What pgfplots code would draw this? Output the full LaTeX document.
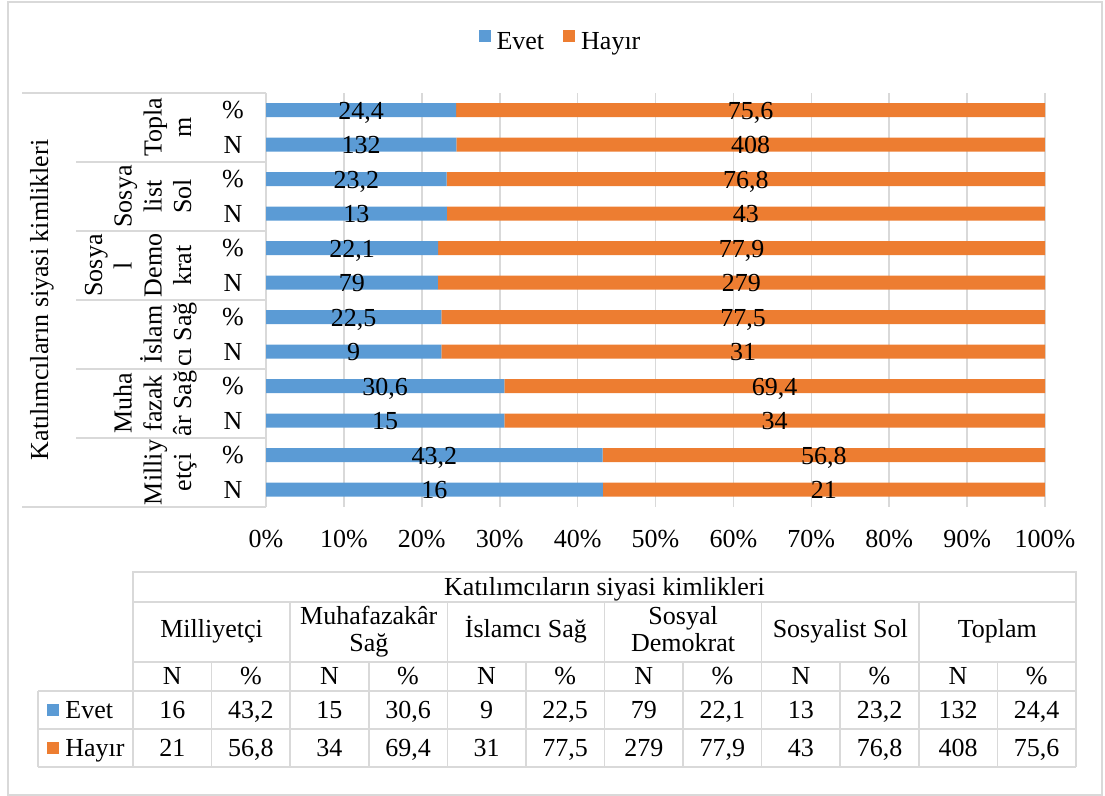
\documentclass[border=0pt]{standalone}
\usepackage{fontspec}
\setmainfont{Liberation Serif}
\usepackage{pgfplots}
\usepackage{pgfplotstable}
\pgfplotsset{compat=1.18}
\definecolor{evet}{HTML}{5B9BD5}
\definecolor{hayir}{HTML}{ED7D31}
\definecolor{gridgray}{HTML}{D9D9D9}
% y: 0 = Milliyetci N (bottom) ... 11 = Toplam % (top)
\pgfplotstableread{
y  e     h     el    hl
0  16    21    16    21
1  43.2  56.8  43,2  56,8
2  15    34    15    34
3  30.6  69.4  30,6  69,4
4  9     31    9     31
5  22.5  77.5  22,5  77,5
6  79    279   79    279
7  22.1  77.9  22,1  77,9
8  13    43    13    43
9  23.2  76.8  23,2  76,8
10 132   408   132   408
11 24.4  75.6  24,4  75,6
}\data
\begin{document}
\begin{tikzpicture}[font=\fontsize{13}{13.5}\selectfont]
\begin{scope}[x=0.5pt,y=-0.5pt]
\useasboundingbox (0,0) rectangle (1105,796);
\draw[gridgray, line width=0.8pt] (8,2) rectangle (1102,795);
% category axis boxes
\draw[gridgray, line width=0.8pt] (22,93) -- (266,93);
\draw[gridgray, line width=0.8pt] (22,507) -- (266,507);
\draw[gridgray, line width=0.8pt] (266,93) -- (266,507);
\foreach \yy in {162,231,300,369,438} \draw[gridgray, line width=0.8pt] (76,\yy) -- (266,\yy);
% level 1 labels
\foreach \i in {0,...,11}{
  \pgfmathsetmacro{\yc}{93+34.5*(\i+0.5)+8.7}
  \pgfmathparse{mod(\i,2)==0 ? 1 : 0}
  \ifnum\pgfmathresult=1 \node[anchor=base, inner sep=0pt] at (233,\yc) {\%};
  \else \node[anchor=base, inner sep=0pt] at (233,\yc) {N}; \fi
}
% level 2 labels (rotated)
\tikzset{rl/.style={rotate=90, anchor=base, inner sep=0pt}}
\node[rl] at (161.5,127.5) {Topla};
\node[rl] at (191,127.5) {m};
\node[rl] at (131.5,196.5) {Sosya};
\node[rl] at (161.5,196.5) {list};
\node[rl] at (191,196.5) {Sol};
\node[rl] at (102,265.5) {Sosya};
\node[rl] at (131.5,265.5) {l};
\node[rl] at (161.5,265.5) {Demo};
\node[rl] at (191,265.5) {krat};
\node[rl] at (161.5,334.5) {İslam};
\node[rl] at (191,334.5) {cı Sağ};
\node[rl] at (131.5,403.5) {Muha};
\node[rl] at (161.5,403.5) {fazak};
\node[rl] at (191,403.5) {âr Sağ};
\node[rl] at (161.5,472.5) {Milliy};
\node[rl] at (191,472.5) {etçi};
\node[rl] at (48,300) {Katılımcıların siyasi kimlikleri};
% data table
\tikzset{tl/.style={gridgray, line width=0.8pt}}
\draw[tl] (133,572) rectangle (1076,602);
\draw[tl] (133,602) rectangle (1076,662);
\foreach \k in {2,4,...,10} \draw[tl] ({133+78.583*\k},602) -- ({133+78.583*\k},662);
\draw[tl] (38,691) -- (1076,691);
\draw[tl] (38,729) -- (1076,729);
\draw[tl] (38,767) -- (1076,767);
\draw[tl] (38,691) -- (38,767);
\foreach \k in {0,...,12} \draw[tl] ({133+78.583*\k},662) -- ({133+78.583*\k},767);
\node[anchor=base, inner sep=0pt] at (604.5,595.5) {Katılımcıların siyasi kimlikleri};
\node[anchor=base, inner sep=0pt] at (211.6,638) {Milliyetçi};
\node[anchor=base, inner sep=0pt] at (368.8,625) {Muhafazakâr};
\node[anchor=base, inner sep=0pt] at (368.8,652) {Sağ};
\node[anchor=base, inner sep=0pt] at (525.9,638) {İslamcı Sağ};
\node[anchor=base, inner sep=0pt] at (683.1,625) {Sosyal};
\node[anchor=base, inner sep=0pt] at (683.1,652) {Demokrat};
\node[anchor=base, inner sep=0pt] at (840.3,638) {Sosyalist Sol};
\node[anchor=base, inner sep=0pt] at (997.4,638) {Toplam};
\foreach \k in {0,...,5}{
  \node[anchor=base, inner sep=0pt] at ({133+78.583*(2*\k+0.5)},685) {N};
  \node[anchor=base, inner sep=0pt] at ({133+78.583*(2*\k+1.5)},685) {\%};
}
\foreach \v [count=\c from 0] in {16,{43,2},15,{30,6},9,{22,5},79,{22,1},13,{23,2},132,{24,4}}
  \node[anchor=base, inner sep=0pt] at ({133+78.583*(\c+0.5)},718.5) {\v};
\foreach \v [count=\c from 0] in {21,{56,8},34,{69,4},31,{77,5},279,{77,9},43,{76,8},408,{75,6}}
  \node[anchor=base, inner sep=0pt] at ({133+78.583*(\c+0.5)},756.5) {\v};
\fill[evet] (47,704) rectangle (59,716);
\fill[hayir] (47,742) rectangle (59,754);
\node[anchor=base west, inner sep=0pt] at (65,718.5) {Evet};
\node[anchor=base west, inner sep=0pt] at (65,756.5) {Hayır};
\end{scope}

\begin{axis}[
  at={(133pt,-253.5pt)}, anchor=south west, scale only axis,
  width=389.5pt, height=207pt,
  xmin=0, xmax=100, ymin=-0.5, ymax=11.5,
  xbar stacked, bar width=7pt,
  xtick={0,10,...,100},
  xticklabels={0\%,10\%,20\%,30\%,40\%,50\%,60\%,70\%,80\%,90\%,100\%},
  xticklabel style={anchor=base, yshift=-20.2pt, inner sep=0pt},
  ytick=\empty,
  xmajorgrids, grid style={gridgray, line width=0.8pt},
  axis line style={draw=none}, major tick length=0pt,
  clip=false,
  legend image code/.code={\fill[#1] (0pt,0pt) rectangle (6pt,6pt);},
  legend columns=2,
  legend style={at={(0.378,1.123)}, anchor=center, draw=none, fill=none,
    inner sep=0pt, column sep=2pt,
    nodes={inner sep=1pt},
    /tikz/every even column/.append style={column sep=8.5pt}},
]
\addplot[fill=evet, draw=none] table[x expr={\thisrow{e}/(\thisrow{e}+\thisrow{h})*100}, y=y]{\data};
\addplot[fill=hayir, draw=none] table[x expr={\thisrow{h}/(\thisrow{e}+\thisrow{h})*100}, y=y]{\data};
\legend{Evet,Hayır}
\end{axis}

\begin{axis}[
  at={(133pt,-253.5pt)}, anchor=south west, scale only axis,
  width=389.5pt, height=207pt,
  xmin=0, xmax=100, ymin=-0.5, ymax=11.5,
  hide axis, clip=false,
]
\addplot[draw=none, mark=none, nodes near coords, point meta=explicit symbolic,
  nodes near coords style={anchor=base, yshift=-4.4pt, inner sep=0pt, text=black}]
  table[x expr={\thisrow{e}/(\thisrow{e}+\thisrow{h})*50}, y=y, meta=el]{\data};
\addplot[draw=none, mark=none, nodes near coords, point meta=explicit symbolic,
  nodes near coords style={anchor=base, yshift=-4.4pt, inner sep=0pt, text=black}]
  table[x expr={50+\thisrow{e}/(\thisrow{e}+\thisrow{h})*50}, y=y, meta=hl]{\data};
\end{axis}
\end{tikzpicture}
\end{document}
